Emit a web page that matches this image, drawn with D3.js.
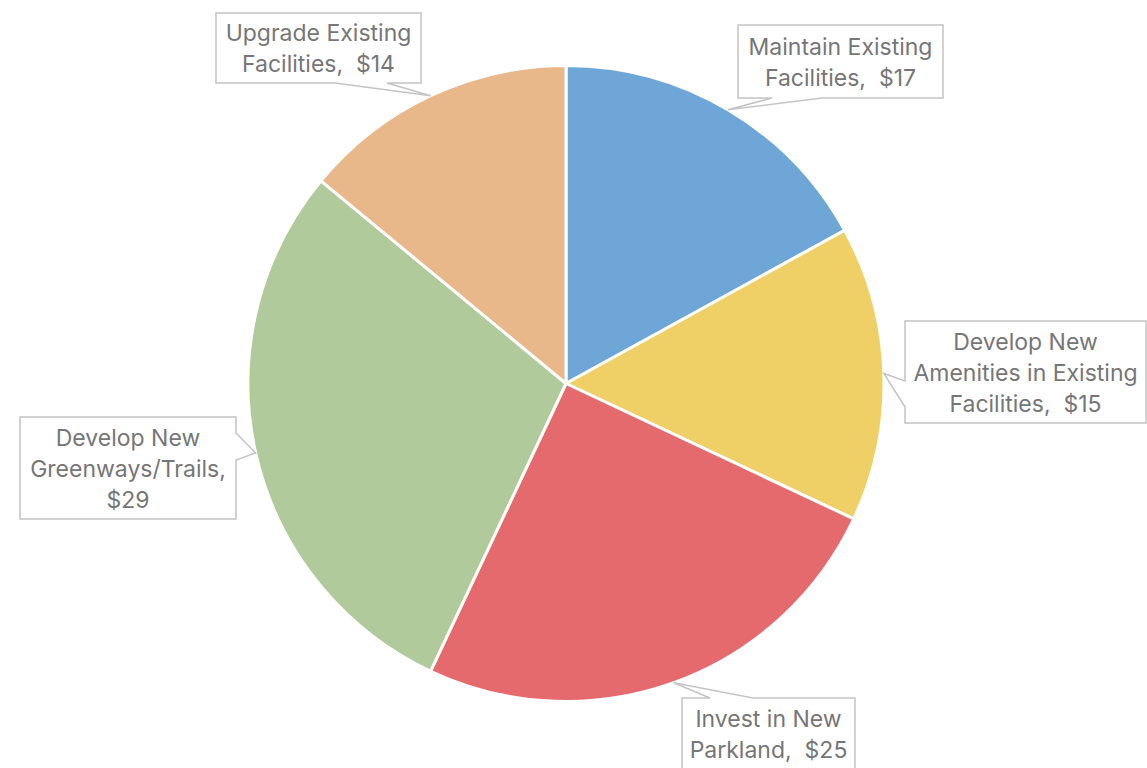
<!DOCTYPE html>
<html>
<head>
<meta charset="utf-8">
<script src="https://cdn.jsdelivr.net/npm/d3@7"></script>
<style>
  html, body { margin: 0; padding: 0; background: #ffffff; }
  svg { display: block; }
</style>
</head>
<body>
<svg id="chart" width="1147" height="768"></svg>
<script>
// Budget allocation, in dollars
const categories = [
  "Maintain Existing Facilities",
  "Develop New Amenities in Existing Facilities",
  "Invest in New Parkland",
  "Develop New Greenways/Trails",
  "Upgrade Existing Facilities"
];
const values = [17, 15, 25, 29, 14];
const colors = ["#6fa6d8", "#eed066", "#e56a6e", "#b0ca9b", "#e8b78a"];
// Label lines as they wrap inside each callout
const labelLines = [
  ["Maintain Existing", "Facilities,  $17"],
  ["Develop New", "Amenities in Existing", "Facilities,  $15"],
  ["Invest in New", "Parkland,  $25"],
  ["Develop New", "Greenways/Trails,", "$29"],
  ["Upgrade Existing", "Facilities,  $14"]
];

// Callout box placement: [x, y, width, height] plus which side carries the pointer
const boxes = [
  { rect: [738, 25, 205, 73], side: "bottom", a: 772, b: 822 },
  { rect: [905, 321, 241, 102], side: "left", a: 381, b: 407 },
  { rect: [682, 698, 173, 72], side: "top", a: 710, b: 753 },
  { rect: [20, 417, 216, 102], side: "right", a: 433, b: 460 },
  { rect: [216, 13, 205, 70], side: "bottom", a: 335, b: 387 }
];

const svg = d3.select("#chart");
const cx = 566, cy = 383.5, radius = 318;

const pie = d3.pie().sort(null).value(d => d)(values);
const arc = d3.arc().innerRadius(0).outerRadius(radius);

const g = svg.append("g").attr("transform", `translate(${cx},${cy})`);
g.selectAll("path.slice")
  .data(pie)
  .join("path")
  .attr("class", "slice")
  .attr("d", arc)
  .attr("fill", (d, i) => colors[i])
  .attr("stroke", "#ffffff")
  .attr("stroke-width", 3)
  .attr("stroke-linejoin", "round");

// Callouts: box with a pointer to the slice edge at its mid-angle
const callouts = svg.append("g");
pie.forEach((d, i) => {
  const mid = (d.startAngle + d.endAngle) / 2;
  const tip = [cx + radius * Math.sin(mid), cy - radius * Math.cos(mid)];
  const bx = boxes[i];
  const [x, y, w, h] = bx.rect;
  const p = d3.path();
  p.moveTo(x, y);
  if (bx.side === "top") { p.lineTo(bx.a, y); p.lineTo(tip[0], tip[1]); p.lineTo(bx.b, y); }
  p.lineTo(x + w, y);
  if (bx.side === "right") { p.lineTo(x + w, bx.a); p.lineTo(tip[0], tip[1]); p.lineTo(x + w, bx.b); }
  p.lineTo(x + w, y + h);
  if (bx.side === "bottom") { p.lineTo(bx.b, y + h); p.lineTo(tip[0], tip[1]); p.lineTo(bx.a, y + h); }
  p.lineTo(x, y + h);
  if (bx.side === "left") { p.lineTo(x, bx.b); p.lineTo(tip[0], tip[1]); p.lineTo(x, bx.a); }
  p.closePath();

  callouts.append("path")
    .attr("d", p.toString())
    .attr("fill", "#ffffff")
    .attr("stroke", "#c4c4c4")
    .attr("stroke-width", 1.5);

  const lines = labelLines[i];
  const lh = 31;
  const startY = y + h / 2 - (lines.length - 1) * lh / 2;
  const t = callouts.append("text")
    .attr("text-anchor", "middle")
    .attr("font-family", "Inter, 'Open Sans', sans-serif")
    .attr("font-size", 23)
    .attr("fill", "#767676");
  lines.forEach((ln, k) => {
    t.append("tspan")
      .attr("x", x + w / 2)
      .attr("y", startY + k * lh)
      .attr("dy", "0.37em")
      .attr("xml:space", "preserve")
      .text(ln);
  });
});
</script>
</body>
</html>
